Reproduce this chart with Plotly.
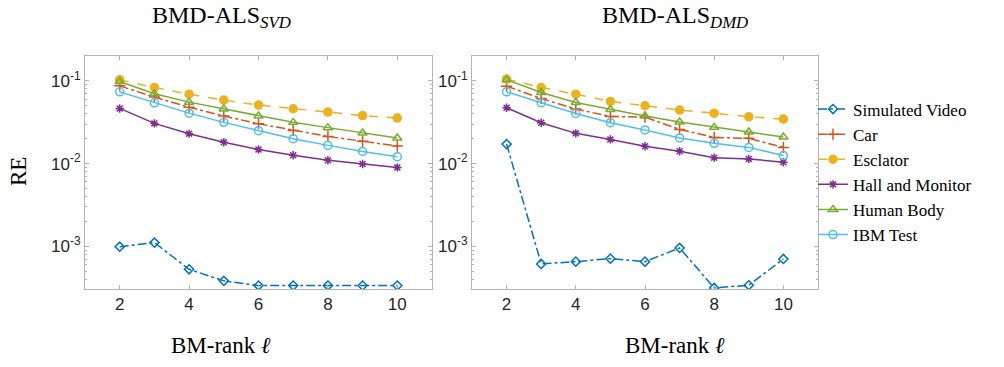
import plotly.graph_objects as go

ranks = [2, 3, 4, 5, 6, 7, 8, 9, 10]
series_names = ["Simulated Video", "Car", "Esclator", "Hall and Monitor", "Human Body", "IBM Test"]

# Left panel: BMD-ALS_SVD
svd_sim = [0.00099, 0.00111, 0.000528, 0.000383, 0.000336, 0.000336, 0.000336, 0.000336, 0.000336]
svd_car = [0.087, 0.0636, 0.048, 0.0375, 0.0303, 0.0252, 0.0213, 0.0186, 0.0163]
svd_esc = [0.1027, 0.083, 0.069, 0.0585, 0.051, 0.046, 0.042, 0.038, 0.0355]
svd_hall = [0.0464, 0.0306, 0.023, 0.0181, 0.0148, 0.0126, 0.011, 0.0099, 0.009]
svd_human = [0.098, 0.0697, 0.0553, 0.0456, 0.0375, 0.0315, 0.0272, 0.0234, 0.0204]
svd_ibm = [0.0736, 0.0543, 0.0407, 0.0315, 0.025, 0.02, 0.0166, 0.014, 0.0121]

# Right panel: BMD-ALS_DMD
dmd_sim = [0.0172, 0.000614, 0.000654, 0.000711, 0.000654, 0.000957, 0.000315, 0.000339, 0.000705]
dmd_car = [0.0863, 0.0612, 0.0456, 0.0371, 0.0365, 0.0259, 0.0207, 0.0202, 0.0157]
dmd_esc = [0.105, 0.083, 0.069, 0.0564, 0.05, 0.0444, 0.0407, 0.0368, 0.0345]
dmd_hall = [0.0473, 0.0312, 0.0232, 0.0196, 0.0162, 0.0141, 0.0118, 0.0114, 0.0104]
dmd_human = [0.103, 0.0723, 0.0548, 0.0451, 0.0375, 0.0318, 0.0274, 0.0241, 0.0209]
dmd_ibm = [0.0736, 0.0543, 0.0403, 0.0312, 0.0255, 0.0204, 0.0176, 0.0157, 0.0125]

x_ticks = [2, 4, 6, 8, 10]
y_ticks = [1e-3, 1e-2, 1e-1]
y_ticktext = ["10<sup>-3</sup>", "10<sup>-2</sup>", "10<sup>-1</sup>"]
panel_titles = ["BMD-ALS<sub><i>SVD</i></sub>", "BMD-ALS<sub><i>DMD</i></sub>"]
x_label = "BM-rank <i>ℓ</i>"
y_label = "RE"

styles = [
    dict(color="#0072BD", dash="dashdot", symbol="diamond-open", size=7),
    dict(color="#D95319", dash="dashdot", symbol="cross-thin-open", size=8),
    dict(color="#EDB120", dash="dash", symbol="circle", size=8),
    dict(color="#7E2F8E", dash="solid", symbol="asterisk-open", size=7),
    dict(color="#77AC30", dash="solid", symbol="triangle-up-open", size=8),
    dict(color="#4DBEEE", dash="solid", symbol="circle-open", size=8),
]

fig = go.Figure()
panels = [
    ([svd_sim, svd_car, svd_esc, svd_hall, svd_human, svd_ibm], "x", "y", True),
    ([dmd_sim, dmd_car, dmd_esc, dmd_hall, dmd_human, dmd_ibm], "x2", "y2", False),
]
for data, xa, ya, show in panels:
    for name, vals, st in zip(series_names, data, styles):
        fig.add_trace(go.Scatter(
            x=ranks, y=vals, name=name, xaxis=xa, yaxis=ya,
            mode="lines+markers", showlegend=show, legendgroup=name,
            line=dict(color=st["color"], dash=st["dash"], width=1.5),
            marker=dict(symbol=st["symbol"], size=st["size"], color=st["color"],
                        line=dict(color=st["color"], width=1.5)),
        ))

minor_vals = [m * 10 ** e for e in (-4, -3, -2, -1) for m in range(2, 10)]
axis_col = "#b4b4b4"
tick_font = dict(family="Liberation Sans, Arial, sans-serif", size=17, color="#262626")
serif = "Liberation Serif"

def xaxis_cfg(domain, anchor):
    return dict(domain=domain, anchor=anchor, range=[1, 11], tickvals=x_ticks,
                ticks="inside", ticklen=4, tickcolor=axis_col, showline=True,
                linecolor=axis_col, linewidth=1, mirror="ticks", showgrid=False,
                zeroline=False, tickfont=tick_font)

def yaxis_cfg(domain, anchor):
    return dict(domain=domain, anchor=anchor, type="log", range=[-3.515, -0.70],
                tickvals=y_ticks, ticktext=y_ticktext, ticks="inside", ticklen=4,
                tickcolor=axis_col, showline=True, linecolor=axis_col, linewidth=1,
                mirror="ticks", showgrid=False, zeroline=False, tickfont=tick_font,
                minor=dict(tickvals=minor_vals, ticks="inside", ticklen=2,
                           tickcolor=axis_col, showgrid=False))

ydom = [1 - 289 / 367, 1 - 56 / 367]
fig.update_layout(
    width=1004, height=367,
    margin=dict(l=0, r=0, t=0, b=0),
    paper_bgcolor="white", plot_bgcolor="white",
    font=dict(family=serif),
    xaxis=xaxis_cfg([85 / 1004, 432 / 1004], "y"),
    yaxis=yaxis_cfg(ydom, "x"),
    xaxis2=xaxis_cfg([472 / 1004, 818 / 1004], "y2"),
    yaxis2=yaxis_cfg(ydom, "x2"),
    legend=dict(x=813 / 1004, y=1 - 172 / 367, xanchor="left", yanchor="middle",
                font=dict(family=serif, size=17, color="#000000"),
                bgcolor="rgba(0,0,0,0)", tracegroupgap=0, itemwidth=30),
    showlegend=True,
)

ann = []
for cx, t in zip([221 / 1004, 675 / 1004], panel_titles):
    ann.append(dict(x=cx, y=1 - 17 / 367, xref="paper", yref="paper", text=t,
                    showarrow=False, font=dict(family=serif, size=24, color="#000"),
                    xanchor="center", yanchor="middle"))
    ann.append(dict(x=cx, y=1 - 345 / 367, xref="paper", yref="paper", text=x_label,
                    showarrow=False, font=dict(family=serif, size=23, color="#000"),
                    xanchor="center", yanchor="middle"))
ann.append(dict(x=18 / 1004, y=1 - 172 / 367, xref="paper", yref="paper", text=y_label,
                showarrow=False, textangle=-90, font=dict(family=serif, size=23, color="#000"),
                xanchor="center", yanchor="middle"))
fig.update_layout(annotations=ann)

fig.write_html("out.html", config={"displayModeBar": False},
               post_script="document.body.style.margin='0px';document.body.style.overflow='hidden';")
